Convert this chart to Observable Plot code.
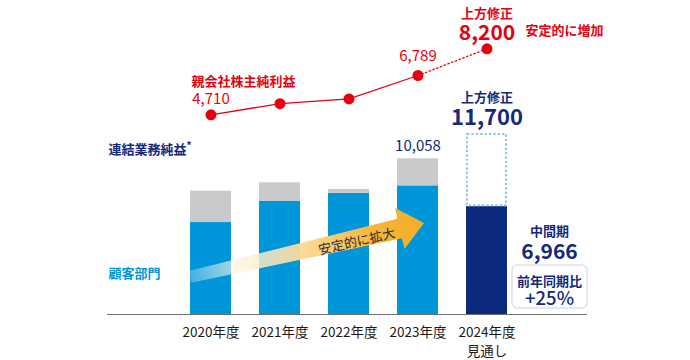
<!DOCTYPE html>
<html><head><meta charset="utf-8">
<script src="https://cdn.jsdelivr.net/npm/d3@7"></script>
<script src="https://cdn.jsdelivr.net/npm/@observablehq/plot@0.6"></script>
<style>
body{margin:0;background:#fff;}
#wrap{position:relative;width:690px;height:360px;}
#wrap svg{position:absolute;left:0;top:0;}
</style></head><body><div id="wrap"></div>
<script>
// ---- data ----
const years = ["2020年度", "2021年度", "2022年度", "2023年度", "2024年度\n見通し"];
const customerProfit = [5940, 7300, 7820, 8310];          // 顧客部門
const totalProfit = [7970, 8510, 8080, 10058];            // 連結業務純益
const forecastTotal = 11700;                              // 2024 上方修正
const interimTotal = 6966;                                // 中間期
const netIncome = [4710, 5300, 5550, 6789, 8200];         // 親会社株主純利益
const yoyLabel = "+25%";

const FONT = '"Noto Sans CJK JP", "Noto Sans", sans-serif';
const RED = "#e60012", NAVY = "#13297a", BLUE = "#0096da", GRAY = "#c9cacc", DARKNAVY = "#0b2a7d";
const fmt = d3.format(",");
const xOpts = {type: "band", domain: years, paddingInner: 0.406, paddingOuter: 1.167, align: 0.51};
const common = {width: 690, height: 360, marginLeft: 107, marginRight: 103, marginTop: 0, marginBottom: 46};

const idx4 = [0, 1, 2, 3];
const last = years[4];

const bars = Plot.plot({
  ...common,
  style: {fontFamily: FONT, background: "white"},
  x: {...xOpts, label: null},
  y: {domain: [0, 20284], axis: null},
  marks: [
    Plot.barY(idx4, {x: i => years[i], y1: 0, y2: i => customerProfit[i], fill: BLUE}),
    Plot.barY(idx4, {x: i => years[i], y1: i => customerProfit[i], y2: i => totalProfit[i], fill: GRAY}),
    Plot.barY([0], {x: () => last, y1: 0, y2: () => interimTotal, fill: DARKNAVY}),
    Plot.barY([0], {x: () => last, y1: () => interimTotal, y2: () => forecastTotal, fill: "none",
      stroke: "#8cc3e4", strokeWidth: 2, strokeDasharray: "2.2,2.2", inset: 1}),
    // 前年同期比 box
    Plot.barY([0], {x: () => last, y1: 0, y2: 0, fill: "white", stroke: "#c8d0e2", strokeWidth: 1,
      rx: 5, insetLeft: 46, insetRight: -80, insetTop: -49, insetBottom: 6}),
    Plot.ruleY([0], {stroke: "#6f6f6f", strokeWidth: 1}),
    Plot.axisX({tickSize: 0, tickPadding: 8.5, fontSize: 13.5, lineHeight: 1.42, color: "#231815", label: null}),
    // labels
    Plot.text(["連結業務純益"], {frameAnchor: "left", y: () => 10660, textAnchor: "start", dx: 1,
      fill: NAVY, fontSize: 13, fontWeight: "bold"}),
    Plot.text(["*"], {frameAnchor: "left", y: () => 10660, textAnchor: "start", dx: 79, dy: -3.5,
      fill: NAVY, fontSize: 10, fontWeight: "bold"}),
    Plot.text(["顧客部門"], {frameAnchor: "left", y: () => 2650, textAnchor: "start", dx: 1,
      fill: BLUE, fontSize: 13, fontWeight: "bold"}),
    Plot.text([3], {x: i => years[i], y: i => totalProfit[i], text: i => fmt(totalProfit[i]),
      dy: -12.5, fill: NAVY, fontSize: 15}),
    Plot.text(["上方修正"], {x: () => last, y: () => forecastTotal, dy: -36, fill: NAVY, fontSize: 13, fontWeight: "bold"}),
    Plot.text([forecastTotal], {x: () => last, y: d => d, text: d => fmt(d), dy: -15, fill: NAVY, fontSize: 22, fontWeight: "bold"}),
    Plot.text(["中間期"], {x: () => last, y: () => interimTotal, dx: 62.5, dy: 25, fill: NAVY, fontSize: 13, fontWeight: "bold"}),
    Plot.text([interimTotal], {x: () => last, y: d => d, text: d => fmt(d), dx: 62.5, dy: 46, fill: NAVY, fontSize: 21, fontWeight: "bold"}),
    Plot.text(["前年同期比"], {x: () => last, y: () => 0, dx: 62.5, dy: -33, fill: NAVY, fontSize: 13, fontWeight: "bold"}),
    Plot.text([yoyLabel], {x: () => last, y: () => 0, dx: 62.5, dy: -15, fill: NAVY, fontSize: 18.5, fontWeight: 500})
  ]
});

// ---- growth arrow (annotation anchored to the scales) ----
{
  const xs = bars.scale("x"), ys = bars.scale("y");
  const T = [xs.apply(years[0]), ys.apply(2400)];
  const P = [xs.apply(years[3]) + xs.bandwidth * 0.66, ys.apply(5880)];
  const dx = P[0] - T[0], dy = P[1] - T[1], L = Math.hypot(dx, dy);
  const u = [dx / L, dy / L], n = [-u[1], u[0]];
  const B = [P[0] - u[0] * 25, P[1] - u[1] * 25];
  const pt = (p, k) => [p[0] + n[0] * k, p[1] + n[1] * k];
  const poly = [pt(T, 6), pt(B, 10), pt(B, 21), P, pt(B, -21), pt(B, -10), pt(T, -6)];
  const svg = d3.select(bars);
  const defs = svg.append("defs");
  const g = defs.append("linearGradient").attr("id", "arrowGrad").attr("gradientUnits", "userSpaceOnUse")
    .attr("x1", T[0]).attr("y1", T[1]).attr("x2", P[0]).attr("y2", P[1]);
  [[0, "#ffffff", 0.25], [0.25, "#fdf1d8", 0.8], [0.55, "#f9d284", 1], [0.8, "#f5b537", 1], [1, "#f4ad2b", 1]]
    .forEach(([o, c, a]) => g.append("stop").attr("offset", o).attr("stop-color", c).attr("stop-opacity", a));
  const rule = svg.select('[aria-label="rule"]').node();
  const layer = svg.insert("g", () => rule);
  layer.append("path").attr("d", "M" + poly.map(p => p.join(",")).join("L") + "Z").attr("fill", "url(#arrowGrad)");
  const ang = Math.atan2(dy, dx) * 180 / Math.PI;
  const C = [T[0] + dx * 0.71 + n[0] * 2, T[1] + dy * 0.71 + n[1] * 2];
  layer.append("text").attr("transform", `translate(${C[0]},${C[1]}) rotate(${ang})`)
    .attr("text-anchor", "middle").attr("dominant-baseline", "central")
    .attr("font-family", FONT).attr("font-size", 13).attr("fill", "#2a2a2a").text("安定的に拡大");
}

const line = Plot.plot({
  ...common,
  style: {fontFamily: FONT, background: "transparent"},
  x: {...xOpts, axis: null},
  y: {domain: [-5854, 10756], axis: null},
  marks: [
    Plot.line([0, 1, 2, 3], {x: i => years[i], y: i => netIncome[i], stroke: RED, strokeWidth: 1.3}),
    Plot.line([3, 4], {x: i => years[i], y: i => netIncome[i], stroke: RED, strokeWidth: 1.3, strokeDasharray: "1.5,2.5"}),
    Plot.dot(netIncome, {x: (d, i) => years[i], y: d => d, r: 5.5, fill: RED}),
    Plot.text(["親会社株主純利益"], {x: () => years[0], y: () => netIncome[0], textAnchor: "start", dx: -19.5, dy: -33,
      fill: RED, fontSize: 13, fontWeight: "bold"}),
    Plot.text([0], {x: i => years[i], y: i => netIncome[i], text: i => fmt(netIncome[i]), dy: -16,
      fill: RED, fontSize: 15}),
    Plot.text([3], {x: i => years[i], y: i => netIncome[i], text: i => fmt(netIncome[i]), dy: -19,
      fill: RED, fontSize: 15}),
    Plot.text(["上方修正"], {x: () => years[4], y: () => netIncome[4], dy: -34.5, fill: RED, fontSize: 13, fontWeight: "bold"}),
    Plot.text([4], {x: i => years[i], y: i => netIncome[i], text: i => fmt(netIncome[i]), dy: -16,
      fill: RED, fontSize: 21, fontWeight: "bold"}),
    Plot.text(["安定的に増加"], {x: () => years[4], y: () => netIncome[4], textAnchor: "start", dx: 38.5, dy: -17.5,
      fill: RED, fontSize: 13, fontWeight: "bold"})
  ]
});

document.getElementById("wrap").append(bars, line);
</script></body></html>
